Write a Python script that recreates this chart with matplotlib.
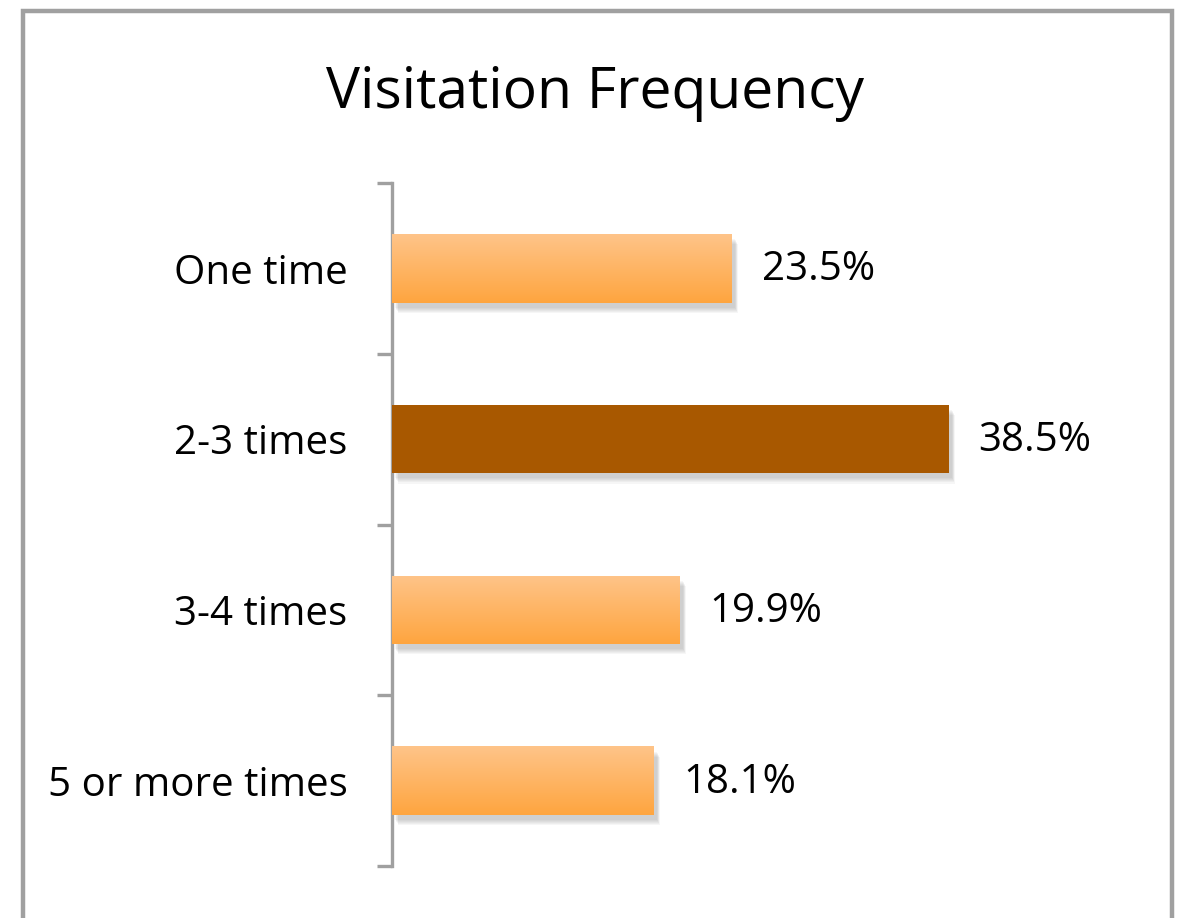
import matplotlib
matplotlib.use("Agg")
import matplotlib.pyplot as plt
import numpy as np
from matplotlib.patches import Rectangle
from matplotlib.colors import LinearSegmentedColormap

categories = ["One time", "2-3 times", "3-4 times", "5 or more times"]
values = [23.5, 38.5, 19.9, 18.1]
labels = ["23.5%", "38.5%", "19.9%", "18.1%"]
highlight = [False, True, False, False]

plt.rcParams['font.family'] = ['Open Sans', 'DejaVu Sans']

W, H = 1183, 918
fig = plt.figure(figsize=(W / 100, H / 100), dpi=100)
fig.patch.set_facecolor('white')

# outer border
fig.patches.append(Rectangle((23 / W, -0.05), (1172 - 23) / W, 1.05 - 11 / H,
                             transform=fig.transFigure, fill=False,
                             edgecolor='#A0A0A0', linewidth=3.2, zorder=0))

fig.text(595 / W, 1 - 93 / H, "Visitation Frequency", ha='center', va='center',
         fontsize=41, color='black')

left, right = 392 / W, 1115 / W
bottom, top = 1 - 866 / H, 1 - 183 / H
ax = fig.add_axes([left, bottom, right - left, top - bottom])
ax.set_xlim(0, 50)
ax.set_ylim(3.5, -0.5)

y = np.arange(len(categories))
bh = 0.4
orange_cmap = LinearSegmentedColormap.from_list('og', ['#FFA53F', '#FEC489'])
grad = np.linspace(0, 1, 256).reshape(-1, 1)

bars = ax.barh(y, values, height=bh, color='none', edgecolor='none', zorder=3)
for yi, v, b, hl in zip(y, values, bars, highlight):
    # shadow
    for k in range(6):
        off = 0.15 + 0.08 * k
        sh = Rectangle((0.15 + off * 0.5, yi - bh / 2 + 0.03 + 0.006 * k), v, bh,
                       facecolor='#808080', alpha=0.07, edgecolor='none', zorder=2)
        ax.add_patch(sh)
    if hl:
        b.set_facecolor('#A85800')
    else:
        im = ax.imshow(grad, cmap=orange_cmap, aspect='auto',
                       extent=[0, v, yi - bh / 2, yi + bh / 2], origin='upper',
                       zorder=3.5, interpolation='bilinear')
        im.set_clip_path(b)

ax.set_xlim(0, 50)
ax.set_ylim(3.5, -0.5)

for yi, v, lab in zip(y, values, labels):
    ax.text(v + 2.07, yi + 0.01, lab, va='center', ha='left', fontsize=29, color='black')

for s in ['top', 'right', 'bottom']:
    ax.spines[s].set_visible(False)
ax.spines['left'].set_color('#A0A0A0')
ax.spines['left'].set_linewidth(2.4)
ax.set_xticks([])
ax.set_yticks(y)
ax.set_yticklabels(categories, fontsize=29)
ax.tick_params(axis='y', which='major', length=0, pad=32)
ax.set_yticks(np.arange(-0.5, 4.0, 1.0), minor=True)
ax.tick_params(axis='y', which='minor', length=11, width=2.4, color='#A0A0A0')
ax.patch.set_alpha(0)

fig.savefig('out.png', dpi=100, facecolor='white')
